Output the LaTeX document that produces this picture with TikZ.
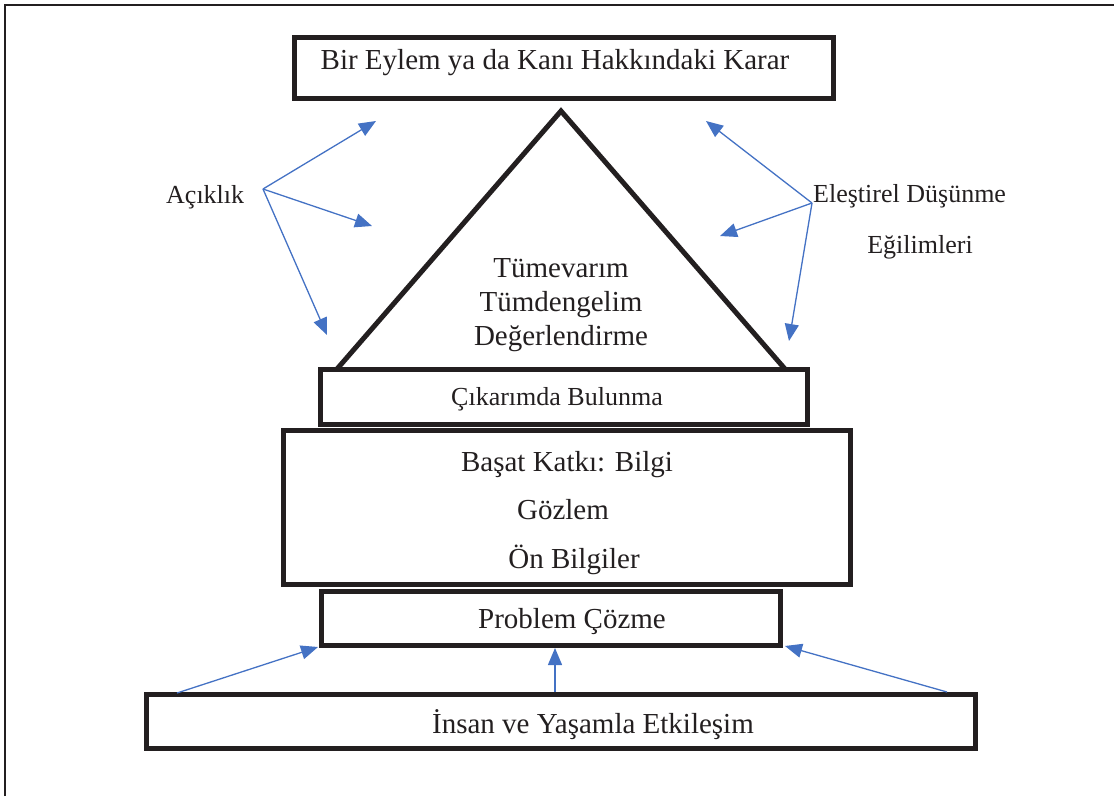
\documentclass[tikz,border=0pt]{standalone}
\usepackage{fontspec}
\setmainfont{Liberation Serif}
\usetikzlibrary{arrows.meta}
\definecolor{ink}{HTML}{231F20}
\definecolor{arrowblue}{HTML}{4472C4}
\tikzset{
  box/.style={draw=ink, line width=5pt, rectangle, inner sep=0pt},
  bigtxt/.style={text=ink, font=\fontsize{29}{34}\selectfont, inner sep=0pt, anchor=base},
  midtxt/.style={text=ink, font=\fontsize{26}{30}\selectfont, inner sep=0pt, anchor=base},
  bluearrow/.style={draw=arrowblue, line width=1.3pt, -{Triangle[length=17pt,width=14pt]}},
}
\begin{document}
\begin{tikzpicture}[x=1pt,y=-1pt]
\useasboundingbox (0,0) rectangle (1114,796);
% outer frame (only top and left visible)
\draw[ink, line width=2pt] (5,796) -- (5,5) -- (1114,5);

% boxes
\node[box, minimum width=539pt, minimum height=61pt] (karar) at (564,68) {};
\node[box, minimum width=487pt, minimum height=55pt] (cikarim) at (563.5,396.5) {};
\node[box, minimum width=567pt, minimum height=154pt] (basat) at (566.5,507) {};
\node[box, minimum width=459pt, minimum height=54pt] (problem) at (550.5,618) {};
\node[box, minimum width=829pt, minimum height=54pt] (insan) at (560.5,721) {};

% triangle
\coordinate (triL) at (337,369);
\coordinate (triT) at (561,111);
\coordinate (triR) at (785,369);
\draw[ink, line width=5pt, line join=miter] (triL) -- (triT) -- (triR);

% texts
\node[bigtxt] (tkarar) at (555,69) {Bir Eylem ya da Kanı Hakkındaki Karar};
\node[bigtxt] (t1) at (561,277) {Tümevarım};
\node[bigtxt] (t2) at (561,311) {Tümdengelim};
\node[bigtxt] (t3) at (561,345) {Değerlendirme};
\node[midtxt] (tcik) at (557,405) {Çıkarımda Bulunma};
\node[bigtxt] (tb1) at (567,471) {Başat Katkı: Bilgi};
\node[bigtxt] (tb2) at (563,519) {Gözlem};
\node[bigtxt] (tb3) at (574,568) {Ön Bilgiler};
\node[bigtxt] (tprob) at (572,628) {Problem Çözme};
\node[bigtxt] (tinsan) at (593,733) {İnsan ve Yaşamla Etkileşim};
\node[midtxt, anchor=base west] (acik) at (166,203) {Açıklık};
\node[midtxt, anchor=base west] (elest) at (813,202) {Eleştirel Düşünme};
\node[midtxt] (egil) at (920,253) {Eğilimleri};

% arrows left
\coordinate (aO) at (263,189);
\coordinate (a1) at (376,121);
\coordinate (a2) at (372,226);
\coordinate (a3) at (327,335);
\draw[bluearrow] (aO) -- (a1);
\draw[bluearrow] (aO) -- (a2);
\draw[bluearrow] (aO) -- (a3);

% arrows right
\coordinate (eO) at (812,203);
\coordinate (e1) at (706,121);
\coordinate (e2) at (720,236);
\coordinate (e3) at (789,341);
\draw[bluearrow] (eO) -- (e1);
\draw[bluearrow] (eO) -- (e2);
\draw[bluearrow] (eO) -- (e3);

% bottom arrows
\coordinate (b1s) at (177,693);
\coordinate (b1e) at (318,647);
\coordinate (b2s) at (555,692);
\coordinate (b2e) at (555,648);
\coordinate (b3s) at (947,692);
\coordinate (b3e) at (785,646);
\draw[bluearrow] (b1s) -- (b1e);
\draw[bluearrow] (b2s) -- (b2e);
\draw[bluearrow] (b3s) -- (b3e);
\end{tikzpicture}
\end{document}
